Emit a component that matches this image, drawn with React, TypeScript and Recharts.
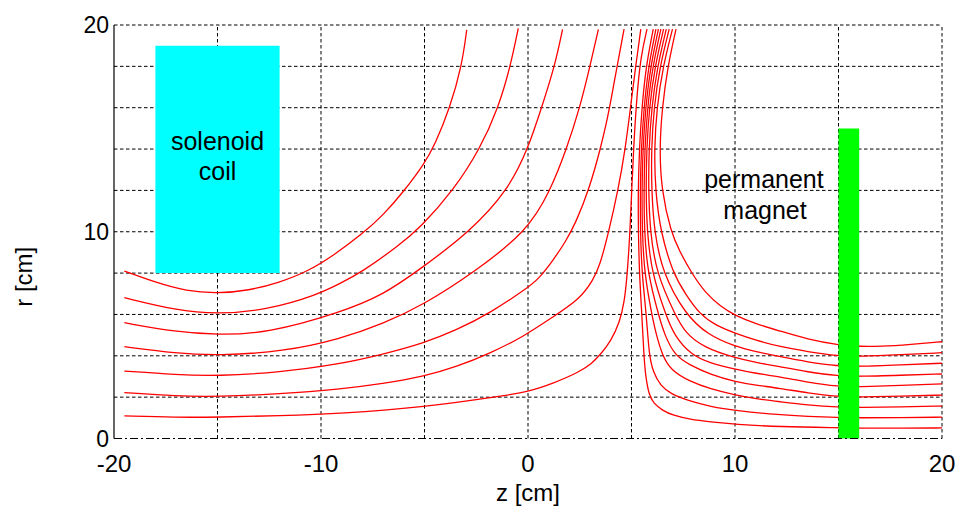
import React from 'react';
import {
  ComposedChart,
  Line,
  XAxis,
  YAxis,
  ReferenceLine,
  ReferenceArea,
  ReferenceDot,
} from 'recharts';

const FONT = '"Liberation Sans", Arial, Helvetica, sans-serif';

// axis ticks and grid positions
const zTicks = [-20, -10, 0, 10, 20];
const rTicks = [0, 10, 20];
const zGrid = [-15, -10, -5, 0, 5, 10, 15, 20];
const rGrid = [2, 4, 6, 8, 10, 12, 14, 16, 18, 20];

// objects: [zStart, zEnd], [rStart, rEnd]
const coilZ = [-18, -12];
const coilR = [8, 19];
const magnetZ = [15, 16];
const magnetR = [0, 15];

// text annotations: [z, r(baseline)]
const annotations: { z: number; r: number; text: string }[] = [
  { z: -15, r: 13.95, text: 'solenoid' },
  { z: -15, r: 12.5, text: 'coil' },
  { z: 11.4, r: 12.1, text: 'permanent' },
  { z: 11.45, r: 10.62, text: 'magnet' },
];

type P = [number, number];

// field lines starting at the left (solenoid side)
const left1: P[] = [[-19.5, 1.09], [-17, 1.02], [-15, 1.03], [-12, 1.1], [-9, 1.2], [-5, 1.52], [-2, 1.95], [-1, 2.1], [0, 2.26], [1.22, 2.67], [2.51, 3.23], [3.1, 3.65], [3.48, 4.04], [4.0, 4.7], [4.44, 5.65], [4.65, 6.6], [4.77, 7.67], [4.88, 9.2], [4.95, 10.6], [5.02, 12.2], [5.1, 14], [5.25, 16.5], [5.45, 18.5], [5.75, 19.8]];
const left2: P[] = [[-19.5, 2.22], [-17, 2.05], [-15, 2.02], [-12, 2.15], [-9.08, 2.38], [-7, 2.65], [-5.06, 2.99], [-3.45, 3.47], [-1.84, 4.12], [-0.23, 4.92], [1.22, 5.89], [2.51, 6.75], [3.15, 7.67], [3.48, 8.39], [3.9, 10], [4.35, 12], [4.7, 14], [4.95, 16], [5.2, 18], [5.45, 19.8]];
const left3: P[] = [[-19.5, 3.26], [-17, 3.08], [-15, 3.02], [-12, 3.2], [-9.08, 3.6], [-7.15, 4.04], [-5.06, 4.6], [-3.45, 5.25], [-1.84, 6.06], [-0.06, 7.26], [0.5, 7.7], [1.22, 8.63], [1.8, 9.5], [2.3, 10.4], [3.0, 12.2], [3.48, 13.95], [3.85, 15.5], [4.12, 17], [4.4, 18.5], [4.64, 19.8]];
const left4: P[] = [[-19.5, 4.44], [-17, 4.12], [-15, 4.01], [-11.8, 4.2], [-9.08, 4.81], [-7, 5.55], [-5.06, 6.46], [-2.66, 8.0], [-0.06, 10.0], [1.06, 11.94], [1.86, 14], [2.51, 16.02], [3.0, 18.03], [3.4, 19.79]];
const left5: P[] = [[-19.5, 5.6], [-17, 5.15], [-15, 5.01], [-12.6, 5.09], [-9.08, 6.09], [-7, 6.94], [-5.2, 8.2], [-2.8, 10.0], [-0.95, 12.02], [0.01, 14.04], [0.66, 16.02], [1.3, 18.03], [1.67, 19.79]];
const left6: P[] = [[-19.5, 6.81], [-17, 6.2], [-15, 6.01], [-12.6, 6.22], [-10.2, 6.94], [-9.08, 7.5], [-8.1, 8.0], [-6.2, 9.36], [-5.2, 10.2], [-3.6, 12.0], [-2.32, 14.0], [-1.43, 16.0], [-0.85, 18.0], [-0.47, 19.84]];
const left7: P[] = [[-19.5, 8.1], [-18, 7.55], [-16.5, 7.12], [-15, 7.02], [-13.5, 7.15], [-12, 7.55], [-10.7, 8.05], [-9.4, 8.85], [-8, 9.9], [-7, 10.8], [-6, 11.95], [-5, 13.3], [-4.5, 14.2], [-3.77, 16], [-3.2, 18], [-2.96, 19.76]];

// field lines coming down near z≈6 and running right (magnet side)
const right1: P[] = [[6.05, 19.8], [5.7, 18], [5.5, 16], [5.38, 14], [5.32, 12], [5.33, 10], [5.38, 8], [5.5, 6], [5.6, 4], [5.68, 3], [5.85, 2.1], [6.05, 1.72], [6.5, 1.35], [7.0, 1.12], [7.83, 0.92], [8.8, 0.8], [10, 0.68], [12.17, 0.57], [15, 0.52], [16, 0.5], [18, 0.5], [20, 0.51]];
const right2: P[] = [[6.18, 19.8], [5.82, 18], [5.6, 16], [5.47, 14], [5.42, 12], [5.43, 10], [5.5, 8], [5.72, 6], [5.85, 4], [6.05, 3.2], [6.4, 2.55], [6.9, 2.15], [7.83, 1.8], [8.8, 1.55], [10, 1.35], [12.17, 1.14], [13.5, 1.07], [15, 1.01], [16, 1.0], [18, 1.01], [20, 1.03]];
const right3: P[] = [[6.3, 19.8], [5.92, 18], [5.68, 16], [5.55, 14], [5.5, 12], [5.52, 10], [5.62, 8], [5.98, 6], [6.2, 5], [6.5, 4], [6.9, 3.3], [7.83, 2.75], [8.8, 2.4], [10, 2.1], [11, 1.92], [12.17, 1.78], [13.5, 1.62], [15, 1.51], [16, 1.5], [18, 1.53], [20, 1.57]];
const right4: P[] = [[6.42, 19.8], [6.02, 18], [5.77, 16], [5.64, 14], [5.6, 12], [5.62, 10], [5.78, 8], [6.3, 6], [6.6, 5], [7.1, 4], [7.83, 3.55], [8.8, 3.1], [10, 2.75], [11, 2.58], [12.17, 2.43], [13.5, 2.2], [15, 2.02], [16, 2.0], [18, 2.05], [20, 2.1]];
const right5: P[] = [[6.55, 19.8], [6.13, 18], [5.86, 16], [5.73, 14], [5.7, 12], [5.75, 10], [5.98, 8], [6.65, 6], [7.05, 5], [7.9, 4.02], [8.8, 3.65], [10, 3.35], [11, 3.15], [12.17, 2.99], [13.5, 2.72], [15, 2.51], [16, 2.5], [18, 2.57], [20, 2.64]];
const right6: P[] = [[6.68, 19.8], [6.25, 18], [5.97, 16], [5.84, 14], [5.82, 12], [5.9, 10], [6.2, 8], [7.1, 6], [7.6, 5.1], [8.5, 4.4], [10, 3.9], [11, 3.68], [12.17, 3.47], [13.5, 3.22], [15, 3.02], [16, 3.0], [18, 3.06], [20, 3.12]];
const right7: P[] = [[6.82, 19.8], [6.37, 18], [6.08, 16], [5.96, 14], [5.97, 12], [6.1, 10], [6.5, 8], [7.6, 6], [8.7, 5.0], [10, 4.45], [11, 4.2], [12.17, 3.96], [13.5, 3.7], [15, 3.5], [16, 3.48], [18, 3.56], [20, 3.64]];
const right8: P[] = [[6.98, 19.8], [6.52, 18], [6.22, 16], [6.1, 14], [6.15, 12], [6.4, 10], [7.0, 8], [7.6, 7.0], [8.3, 6.0], [9.1, 5.45], [10, 5.1], [11, 4.75], [12.17, 4.44], [13.5, 4.2], [15, 3.99], [16, 3.97], [18, 4.05], [20, 4.15]];
const right9: P[] = [[7.15, 19.8], [6.75, 18], [6.48, 16], [6.35, 14], [6.45, 12], [6.9, 10], [7.3, 9.1], [7.9, 8.0], [8.6, 7.0], [9.3, 6.4], [10, 5.95], [11, 5.55], [12.17, 5.2], [13.5, 4.8], [15, 4.52], [16, 4.45], [17, 4.45], [18.5, 4.55], [20, 4.68]];

const fieldLines: P[][] = [left1, left2, left3, left4, left5, left6, left7, right1, right2, right3, right4, right5, right6, right7, right8, right9];

const toPoints = (arr: P[]) => arr.map(([z, r]) => ({ z, r }));

const YLabel = (props: any) => {
  const vb = props.viewBox || { x: 0, y: 25, width: 114, height: 413.5 };
  const cx = vb.x + 32;
  const cy = vb.y + vb.height / 2 + 45;
  return (
    <text
      x={cx}
      y={cy}
      transform={`rotate(-90 ${cx} ${cy})`}
      textAnchor="middle"
      fontSize={24}
      fontFamily={FONT}
      fill="#000"
    >
      r [cm]
    </text>
  );
};

const makeAnnot = (text: string) => (props: any) => {
  const vb = props.viewBox || {};
  const x = (vb.x ?? 0) + (vb.width ?? 0) / 2;
  const y = (vb.y ?? 0) + (vb.height ?? 0) / 2;
  return (
    <text x={x} y={y} textAnchor="middle" fontSize={25} fontFamily={FONT} fill="#000">
      {text}
    </text>
  );
};

export default function App() {
  return (
    <div style={{ position: 'absolute', left: 0, top: 0, width: 959, height: 510, background: '#fff' }}>
      <ComposedChart width={959} height={510} margin={{ top: 25, right: 17, bottom: 0, left: 0 }}>
        <XAxis
          type="number"
          dataKey="z"
          domain={[-20, 20]}
          ticks={zTicks}
          allowDataOverflow
          tickLine={false}
          tickSize={0}
          tickMargin={16}
          height={71.5}
          axisLine={{ stroke: '#000', strokeWidth: 1.2, strokeDasharray: '8 3 2 3' }}
          tick={{ fill: '#000', fontSize: 24, fontFamily: FONT }}
          label={{ value: 'z [cm]', position: 'insideBottom', offset: 9, fill: '#000', fontSize: 24, fontFamily: FONT }}
        />
        <YAxis
          type="number"
          dataKey="r"
          domain={[0, 20]}
          ticks={rTicks}
          allowDataOverflow
          width={114}
          tickLine={false}
          tickSize={0}
          tickMargin={5}
          axisLine={{ stroke: '#000', strokeWidth: 1.2 }}
          tick={{ fill: '#000', fontSize: 23, fontFamily: FONT }}
          label={YLabel}
        />
        {zGrid.map((v) => (
          <ReferenceLine key={`gz${v}`} x={v} stroke="#000" strokeWidth={1} strokeDasharray="3.5 2.5" zIndex={-100} />
        ))}
        {rGrid.map((v) => (
          <ReferenceLine key={`gr${v}`} y={v} stroke="#000" strokeWidth={1} strokeDasharray="3.5 2.5" zIndex={-100} />
        ))}
        {fieldLines.map((pts, i) => (
          <Line
            key={`fl${i}`}
            data={toPoints(pts)}
            dataKey="r"
            type="basis"
            stroke="#ff0000"
            strokeWidth={1.3}
            dot={false}
            activeDot={false}
            isAnimationActive={false}
          />
        ))}
        <ReferenceArea x1={coilZ[0]} x2={coilZ[1]} y1={coilR[0]} y2={coilR[1]} fill="#00ffff" fillOpacity={1} stroke="none" zIndex={450} />
        <ReferenceArea x1={magnetZ[0]} x2={magnetZ[1]} y1={magnetR[0]} y2={magnetR[1]} fill="#00ff00" fillOpacity={1} stroke="none" zIndex={450} />
        {annotations.map((a) => (
          <ReferenceDot key={a.text} x={a.z} y={a.r} r={0} fill="none" stroke="none" label={makeAnnot(a.text)} zIndex={700} />
        ))}
      </ComposedChart>
    </div>
  );
}
